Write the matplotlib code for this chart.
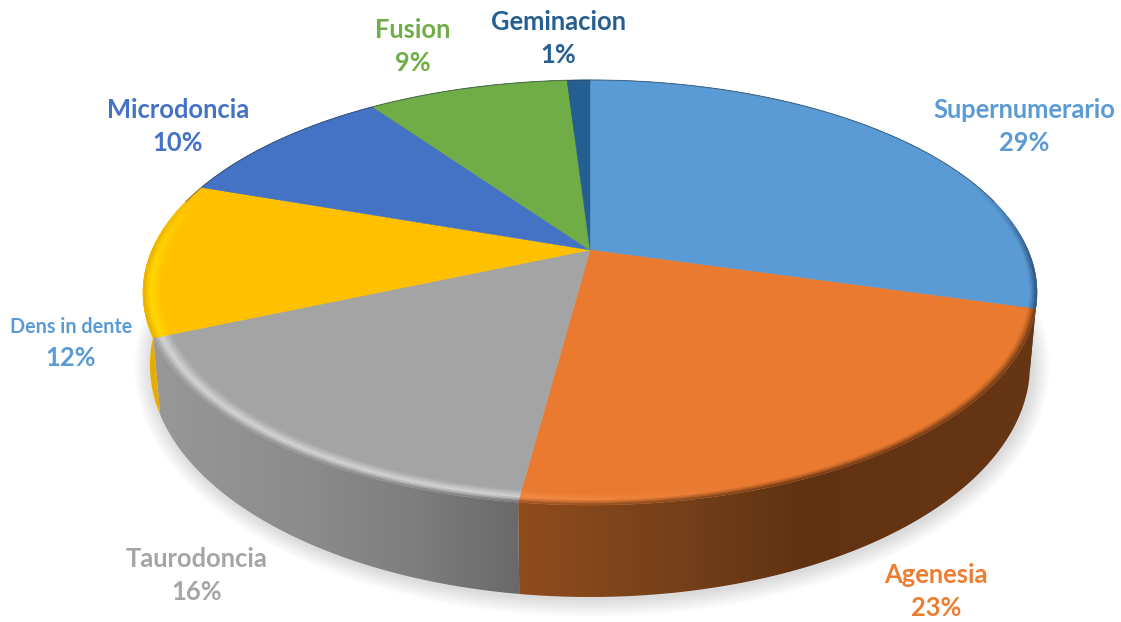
#!/usr/bin/env python
# -*- coding: utf-8 -*-

import numpy as np
import matplotlib
matplotlib.use('Agg')
import matplotlib.pyplot as plt
from matplotlib.collections import PolyCollection
from matplotlib.colors import to_rgb
from matplotlib.patches import Ellipse, Polygon

# data, clockwise from 12 o'clock
labels = ['Supernumerario', 'Agenesia', 'Taurodoncia', 'Dens in dente',
          'Microdoncia', 'Fusion', 'Geminacion']
values = [29.4, 22.7, 16.4, 11.8, 9.9, 8.8, 1.0]

face_colors = ['#5b9bd5', '#e97a2f', '#a4a4a4', '#ffc000',
               '#4472c4', '#70ad47', '#255e91']
label_colors = ['#5b9bd5', '#ed7d31', '#a5a5a5', '#5b9bd5',
                '#4472c4', '#70ad47', '#255e91']
highlight = ['#5b9bd5', '#f58c48', '#d4d4d4', '#ffd800',
             '#4472c4', '#70ad47', '#255e91']

# wall colour along the screen x axis for every slice
wall_x = [150, 300, 420, 520, 680, 800, 1040]
wall_shades = [
    ['#2b4d74'] * 7,
    ['#8f4c1d', '#8f4c1d', '#8f4c1d', '#8f4c1d', '#75401a', '#613212', '#673614'],
    ['#989898', '#8c8c8c', '#7d7d7d', '#696969', '#696969', '#696969', '#696969'],
    ['#e8ac00'] * 7,
    ['#2f5597'] * 7,
    ['#507c32'] * 7,
    ['#1a4368'] * 7,
]

# baselines of the two label lines
label_x = [1024, 936, 197, 71, 178, 413, 558]
name_y = [118, 583, 567, 333, 118, 38, 30]
pct_y = [151, 616, 600, 366, 151, 71, 63]
name_size = [18.4, 18.4, 18.4, 14.2, 18.4, 18.4, 18.4]
pct_size = 18.4

# projection of the pie disc on the screen
cx, cy = 590, 250
a, b, k = 438, 204, 0.2
top_cy, top_rx, top_ry = 292.5, 447, 212.5
bot_cy, bot_rx, bot_ry = 365, 440, 232


def project(theta, r=1.0):
    # theta clockwise from top
    x = r * np.sin(theta)
    y = r * np.cos(theta)
    d = 1 + k * y
    return cx + a * x / d, cy - b * y / d


def to_bottom(px, py):
    u = (px - cx) / top_rx
    v = (py - top_cy) / top_ry
    return cx + bot_rx * u, bot_cy + bot_ry * v


def mix(c1, c2, t):
    c1, c2 = np.array(c1), np.array(c2)
    return tuple(c1 + (c2 - c1) * t)


fig = plt.figure(figsize=(11.21, 6.22), dpi=100)
ax = fig.add_axes([0, 0, 1, 1])

# soft shadow under the pie
for i in range(18):
    grow = 18 - i
    ax.add_patch(Ellipse((cx + 2, bot_cy + 2), 2 * (bot_rx + grow), 2 * (bot_ry + grow),
                         fc='black', ec='none', alpha=0.009, zorder=1))

edges = np.cumsum([0] + values) / sum(values) * 2 * np.pi

# side wall, a horizontal gradient clipped to each slice
grad_x = np.linspace(130, 1050, 500)
for i in range(len(values)):
    th = np.linspace(edges[i], edges[i + 1], 120)
    px, py = project(th)
    bx, by = to_bottom(px, py)
    shade = np.array([to_rgb(c) for c in wall_shades[i]])
    img = np.stack([np.interp(grad_x, wall_x, shade[:, j]) for j in range(3)], axis=-1)[None, :, :]
    im = ax.imshow(img, extent=(130, 1050, 610, 70), aspect='auto', zorder=2,
                   interpolation='bilinear')
    clip = Polygon(np.c_[np.r_[px, bx[::-1]], np.r_[py, by[::-1]]], transform=ax.transData)
    im.set_clip_path(clip)

# top face
for i in range(len(values)):
    th = np.linspace(edges[i], edges[i + 1], 120)
    px, py = project(th)
    ax.fill(np.r_[cx, px], np.r_[cy, py], fc=face_colors[i], ec=face_colors[i],
            lw=0.3, zorder=3)

# bevel along the front rim
band = np.linspace(0.96, 1.0, 9)
polys, cols = [], []
for i in range(len(values)):
    n = max(int(values[i] * 6), 4)
    th = np.linspace(edges[i], edges[i + 1], n + 1)
    shade = np.array([to_rgb(c) for c in wall_shades[i]])
    face = to_rgb(face_colors[i])
    hl = to_rgb(highlight[i])
    for t0, t1 in zip(th[:-1], th[1:]):
        tm = (t0 + t1) / 2
        mx, _ = project(tm)
        wall = tuple(np.interp(mx, wall_x, shade[:, j]) for j in range(3))
        weight = np.clip((-np.cos(tm) + 0.35) / 0.4, 0, 1)
        hl_amount = np.clip((760 - mx) / 260, 0, 1)
        for r0, r1 in zip(band[:-1], band[1:]):
            rm = (((r0 + r1) / 2) - band[0]) / (band[-1] - band[0])
            # face -> highlight -> wall
            c = mix(face, hl, hl_amount * np.clip(rm / 0.55, 0, 1))
            c = mix(c, wall, np.clip((rm - 0.55) / 0.45, 0, 1) ** 1.3)
            c = mix(face, c, weight)
            xa, ya = project(t0, r0)
            xb, yb = project(t1, r0)
            xc, yc = project(t1, r1)
            xd, yd = project(t0, r1)
            polys.append([(xa, ya), (xb, yb), (xc, yc), (xd, yd)])
            cols.append(c)
ax.add_collection(PolyCollection(polys, facecolors=cols, edgecolors='face',
                                 linewidths=0.3, zorder=4))

# thin dark line on the far rim
th = np.linspace(-np.pi * 0.42, np.pi * 0.42, 200)
px, py = project(th)
ax.plot(px, py, color='#2f3f4f', lw=0.8, alpha=0.55, zorder=5)

# labels
for i in range(len(labels)):
    ax.text(label_x[i], name_y[i], labels[i], color=label_colors[i],
            fontsize=name_size[i], fontweight='bold', family='Lato',
            ha='center', va='baseline', zorder=6)
    ax.text(label_x[i], pct_y[i], '%.0f%%' % values[i], color=label_colors[i],
            fontsize=pct_size, fontweight='bold', family='Lato',
            ha='center', va='baseline', zorder=6)

ax.set_xlim(0, 1121)
ax.set_ylim(622, 0)
ax.axis('off')

plt.savefig('out.png', dpi=100)
